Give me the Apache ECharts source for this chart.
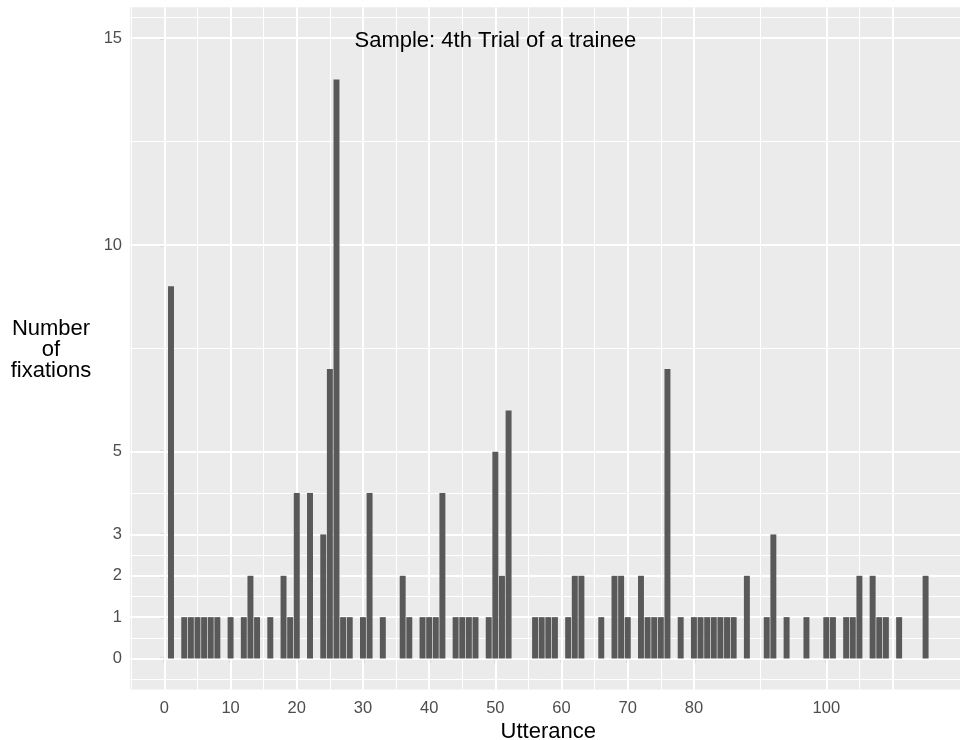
<!DOCTYPE html>
<html>
<head>
<meta charset="utf-8">
<script src="https://cdn.jsdelivr.net/npm/echarts@6/dist/echarts.min.js"></script>
<style>
  html, body { margin: 0; padding: 0; background: #ffffff; }
  #chart { width: 960px; height: 740px; }
</style>
</head>
<body>
<div id="chart"></div>
<script>
// Fixation counts per utterance (4th trial of a trainee)
const utterances = [
  1, 3, 4, 5, 6, 7, 8,
  10, 12, 13, 14,
  16, 18, 19, 20,
  22, 24, 25, 26, 27, 28,
  30, 31, 33,
  36, 37, 39, 40, 41, 42,
  44, 45, 46, 47,
  49, 50, 51, 52,
  56, 57, 58, 59,
  61, 62, 63,
  66, 68, 69, 70,
  72, 73, 74, 75, 76,
  78, 80, 81, 82, 83, 84, 85, 86,
  88, 91, 92, 94, 97,
  100, 101, 103, 104, 105,
  107, 108, 109, 111, 115
];
const fixations = [
  9, 1, 1, 1, 1, 1, 1,
  1, 1, 2, 1,
  1, 2, 1, 4,
  4, 3, 7, 14, 1, 1,
  1, 4, 1,
  2, 1, 1, 1, 1, 4,
  1, 1, 1, 1,
  1, 5, 2, 6,
  1, 1, 1, 1,
  1, 2, 2,
  1, 2, 2, 1,
  2, 1, 1, 1, 7,
  1, 1, 1, 1, 1, 1, 1, 1,
  2, 1, 3, 1, 1,
  1, 1, 1, 1, 2,
  2, 1, 1, 1, 2
];

// Axis breaks
const xTicks = [0, 10, 20, 30, 40, 50, 60, 70, 80, 100];
const xMajorLines = [0, 10, 20, 30, 40, 50, 60, 70, 80, 100, 110];
const xMinorLines = [-5, 5, 15, 25, 35, 45, 55, 65, 75, 90, 105];
const yTicks = [0, 1, 2, 3, 5, 10, 15];
const yMinorLines = [-0.5, 0.5, 1.5, 2.5, 4, 7.5, 12.5, 15.5];
const yLimits = [0, 15];

const annotationText = 'Sample: 4th Trial of a trainee';
const annotationAt = [50, 15];
const xTitle = 'Utterance';
const yTitle = 'Number\nof\nfixations';

// Scale limits with 5% expansion on each side (bars are 0.9 wide)
const barFrac = 0.9;
const xLo = Math.min(...utterances) - barFrac / 2;
const xHi = Math.max(...utterances) + barFrac / 2;
const xPad = 0.05 * (xHi - xLo);
const xMin = xLo - xPad, xMax = xHi + xPad;
const yPad = 0.05 * (yLimits[1] - yLimits[0]);
const yMin = yLimits[0] - yPad, yMax = yLimits[1] + yPad;

const W = 960, H = 740;
const grid = { left: 130, right: -6.6, top: 7.2, bottom: 50.5 };
const pxPerUnit = (W - grid.left - grid.right) / (xMax - xMin);

const PANEL = '#EBEBEB';
const BAR = '#595959';
const TICK = '#333333';
const TICK_TEXT = '#4D4D4D';
const FONT = 'Liberation Sans, Arial, Helvetica, sans-serif';
const TITLE_SIZE = 22;
const TICK_SIZE = 16.5;

const gridLines = []
  .concat(xMinorLines.map(v => ({ xAxis: v, lineStyle: { width: 1 } })))
  .concat(yMinorLines.map(v => ({ yAxis: v, lineStyle: { width: 1 } })))
  .concat(xMajorLines.map(v => ({ xAxis: v, lineStyle: { width: 2 } })))
  .concat(yTicks.map(v => ({ yAxis: v, lineStyle: { width: 2 } })));

const chart = echarts.init(document.getElementById('chart'), null, { renderer: 'canvas' });

const panelMidY = grid.top + (H - grid.top - grid.bottom) / 2;

chart.setOption({
  animation: false,
  backgroundColor: '#ffffff',
  textStyle: { fontFamily: FONT },
  grid: {
    left: grid.left, right: grid.right, top: grid.top, bottom: grid.bottom,
    outerBoundsMode: 'none',
    containLabel: false,
    show: true, backgroundColor: PANEL, borderWidth: 0
  },
  xAxis: {
    type: 'value',
    min: xMin, max: xMax,
    axisLine: { show: false },
    splitLine: { show: false },
    axisTick: {
      show: true, customValues: xTicks, length: 4.5,
      lineStyle: { color: TICK, width: 1.2 }
    },
    axisLabel: {
      show: true, customValues: xTicks, margin: 10,
      color: TICK_TEXT, fontSize: TICK_SIZE, fontFamily: FONT
    },
    name: xTitle,
    nameLocation: 'middle',
    nameGap: 29,
    nameTextStyle: { color: '#000000', fontSize: TITLE_SIZE, fontFamily: FONT }
  },
  yAxis: {
    type: 'value',
    min: yMin, max: yMax,
    axisLine: { show: false },
    splitLine: { show: false },
    axisTick: {
      show: true, customValues: yTicks, length: 4.5,
      lineStyle: { color: TICK, width: 1.2 }
    },
    axisLabel: {
      show: true, customValues: yTicks, margin: 8,
      color: TICK_TEXT, fontSize: TICK_SIZE, fontFamily: FONT
    }
  },
  graphic: [{
    type: 'text',
    x: 51,
    y: panelMidY + 2,
    style: {
      text: yTitle,
      fill: '#000000',
      font: TITLE_SIZE + 'px ' + FONT,
      align: 'center',
      verticalAlign: 'middle',
      lineHeight: 21
    }
  }],
  series: [
    {
      type: 'line',
      data: [],
      silent: true,
      z: 1,
      markLine: {
        silent: true,
        z: 1,
        symbol: ['none', 'none'],
        label: { show: false },
        lineStyle: { color: '#ffffff', type: 'solid' },
        emphasis: { disabled: true },
        data: gridLines
      },
      markPoint: {
        silent: true,
        z: 3,
        symbol: 'circle',
        symbolSize: 0,
        data: [{ coord: annotationAt }],
        label: {
          show: true,
          position: 'inside',
          offset: [0, 3],
          formatter: annotationText,
          color: '#000000',
          fontSize: TITLE_SIZE,
          fontFamily: FONT
        }
      }
    },
    {
      type: 'bar',
      z: 2,
      barWidth: barFrac * pxPerUnit,
      itemStyle: { color: BAR },
      data: utterances.map((u, i) => [u, fixations[i]])
    }
  ]
});
</script>
</body>
</html>
